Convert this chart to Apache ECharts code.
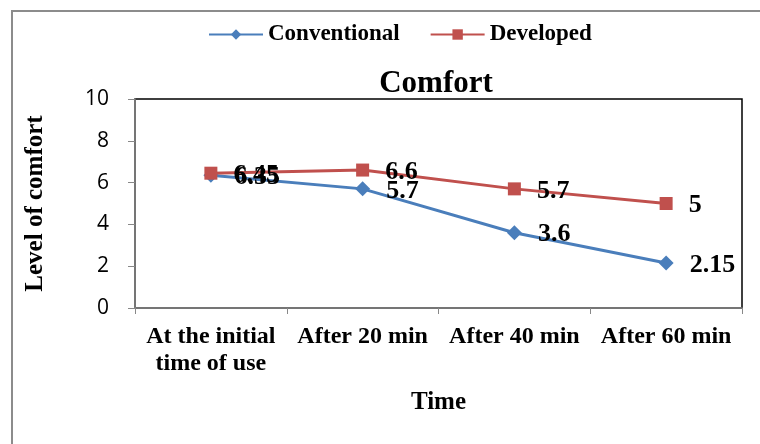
<!DOCTYPE html>
<html>
<head>
<meta charset="utf-8">
<script src="https://cdn.jsdelivr.net/npm/echarts@6/dist/echarts.min.js"></script>
<style>
    html, body { margin: 0; padding: 0; background: #fff; }
    #chart { width: 760px; height: 444px; }
</style>
</head>
<body>
<div id="chart"></div>
<script>
// categories and values
const categories = ["At the initial\ntime of use", "After 20 min", "After 40 min", "After 60 min"]
const conventional = [6.35, 5.7, 3.6, 2.15]
const developed = [6.45, 6.6, 5.7, 5]

const serif = "'Liberation Serif', 'Times New Roman', serif"
const sans = "'Open Sans', 'Liberation Sans', sans-serif"

const chart = echarts.init(document.getElementById("chart"), null, {renderer: "canvas"})

const labelStyle = {
    show: true,
    position: "right",
    distance: 16,
    offset: [0, 2],
    fontFamily: serif,
    fontWeight: "bold",
    fontSize: 26,
    color: "#000"
}

const option = {
    backgroundColor: "#fff",
    animation: false,
    title: {
        text: "Comfort",
        left: 431,
        top: 63,
        textAlign: "center",
        textStyle: {
            fontFamily: serif,
            fontWeight: "bold",
            fontSize: 31,
            color: "#000"
        }
    },
    legend: {
        top: 18,
        left: 203,
        itemGap: 30,
        itemWidth: 54,
        itemHeight: 13,
        textStyle: {
            fontFamily: serif,
            fontWeight: "bold",
            fontSize: 23,
            color: "#000"
        },
        data: ["Conventional", "Developed"]
    },
    grid: {
        left: 135,
        right: 18,
        top: 99,
        bottom: 136,
        show: true,
        borderColor: "#000",
        borderWidth: 1.5
    },
    xAxis: {
        type: "category",
        data: categories,
        name: "Time",
        nameLocation: "middle",
        nameGap: 82,
        nameTextStyle: {
            fontFamily: serif,
            fontWeight: "bold",
            fontSize: 25,
            color: "#000"
        },
        axisLine: {lineStyle: {color: "#888", width: 1.5}},
        axisTick: {show: true, interval: 0, length: 6, lineStyle: {color: "#888"}},
        axisLabel: {
            interval: 0,
            margin: 15,
            fontFamily: serif,
            fontWeight: "bold",
            fontSize: 24,
            color: "#000",
            lineHeight: 27
        }
    },
    yAxis: {
        type: "value",
        min: 0,
        max: 10,
        interval: 2,
        name: "Level of comfort",
        nameLocation: "middle",
        nameGap: 87,
        nameTextStyle: {
            fontFamily: serif,
            fontWeight: "bold",
            fontSize: 25,
            color: "#000"
        },
        splitLine: {show: false},
        axisLine: {show: true, lineStyle: {color: "#888", width: 1.5}},
        axisTick: {show: true, length: 7, lineStyle: {color: "#888"}},
        axisLabel: {
            margin: 26,
            fontFamily: sans,
            fontSize: 21,
            color: "#000"
        }
    },
    series: [
        {
            name: "Conventional",
            type: "line",
            data: conventional,
            symbol: "diamond",
            symbolSize: 15,
            color: "#4A7EBB",
            lineStyle: {width: 3},
            label: labelStyle
        },
        {
            name: "Developed",
            type: "line",
            data: developed,
            symbol: "rect",
            symbolSize: 13,
            color: "#C0504D",
            lineStyle: {width: 3},
            label: labelStyle
        }
    ],
    graphic: [
        {
            type: "rect",
            shape: {x: 12, y: 11, width: 800, height: 500},
            style: {fill: "none", stroke: "#8c8c8c", lineWidth: 2},
            silent: true
        }
    ]
}

chart.setOption(option)
</script>
</body>
</html>
